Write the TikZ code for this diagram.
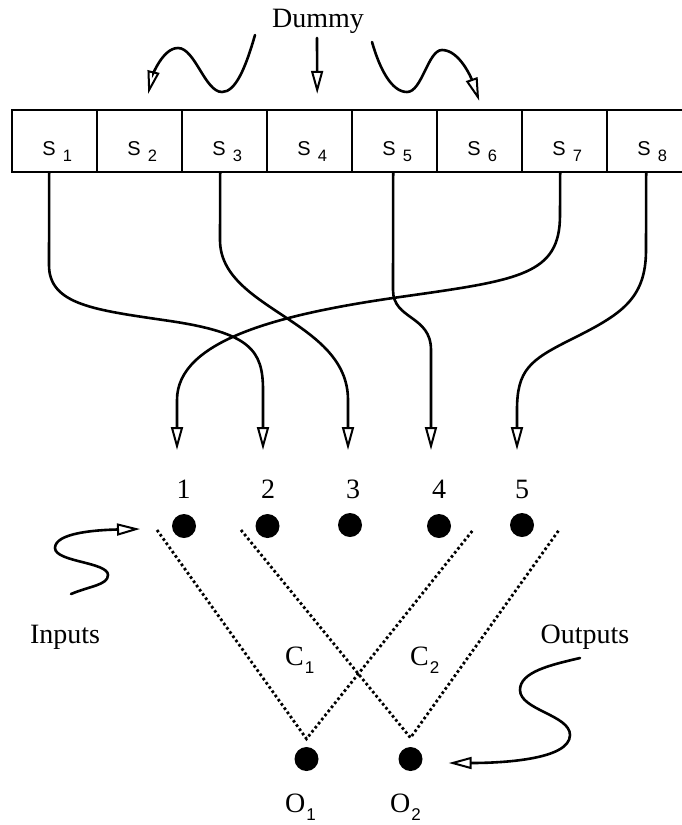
\documentclass[tikz,border=0pt]{standalone}
\usepackage{fontspec}
\setmainfont{Liberation Serif}
\newfontfamily\subsans{Liberation Sans}
\usetikzlibrary{arrows.meta}

% register entry: letter with a lowered sans-serif index
\newcommand\regentry[1]{\hspace*{6pt}{\subsans\fontsize{20}{20}\selectfont S}\kern7pt\raisebox{-6pt}{\subsans\fontsize{16.5}{16.5}\selectfont #1}}
% serif letter with a lowered sans-serif index
\newcommand\idxlabel[2]{#1\kern1pt\raisebox{-8pt}{\subsans\fontsize{17}{17}\selectfont #2}}

\begin{document}
\begin{tikzpicture}[x=1pt,y=-1pt,
  txt/.style={font=\fontsize{28}{30}\selectfont, inner sep=0pt},
  cell/.style={draw, line width=2.4pt, minimum width=85pt, minimum height=62pt,
               inner sep=0pt, text height=31pt, text depth=3pt},
  dot/.style={circle, fill=black, minimum size=24pt, inner sep=0pt},
  wire/.style={line width=2.6pt, line cap=round,
               -{Triangle[open, length=23pt, width=12pt, line width=2pt]}},
  cone/.style={line width=2.8pt, dash pattern=on 2.6pt off 2.6pt}]

\useasboundingbox (0,0) rectangle (682,825);
\clip (0,0) rectangle (682,825);
\fill[white] (0,0) rectangle (682,825);

% shift register
\foreach \k in {1,...,8}
  \node[cell] (s\k) at ({11.7+85*(\k-0.5)},141) {\regentry{\k}};

% dummy stages
\node[txt, anchor=base] (dummy) at (318,27) {Dummy};
\coordinate (d1) at (255,35);
\coordinate (d2) at (317,38);
\coordinate (d3) at (372,42);
\draw[wire] (d1) .. controls (245,70) and (235,92) .. (222,92)
                 .. controls (205,92) and (195,48) .. (178,48)
                 .. controls (162,48) and (152,78) .. ([xshift=9pt,yshift=15pt]s2.north);
\draw[wire] (d2) -- ([xshift=8pt,yshift=15pt]s4.north);
\draw[wire] (d3) .. controls (380,70) and (392,92) .. (407,92)
                 .. controls (422,92) and (428,50) .. (442,50)
                 .. controls (460,50) and (472,80) .. ([yshift=8pt]s6.north);

% network inputs
\coordinate (in1) at (177,450);
\coordinate (in2) at (263,450);
\coordinate (in3) at (348,450);
\coordinate (in4) at (431,450);
\coordinate (in5) at (517,450);

\draw[wire] ([xshift=-5pt]s1.south) -- (49,265)
  .. controls (49,305) and (95,310) .. (170,321)
  .. controls (250,333) and (263,350) .. (263,390) -- (in2);
\draw[wire] ([xshift=-4pt]s3.south) -- (220,240)
  .. controls (220,310) and (348,320) .. (348,400) -- (in3);
\draw[wire] ([xshift=-1pt]s5.south) -- (393,290)
  .. controls (393,320) and (431,315) .. (431,350) -- (in4);
\draw[wire] ([xshift=-4pt]s7.south) -- (560,215)
  .. controls (560,275) and (520,280) .. (400,297)
  .. controls (280,314) and (177,340) .. (177,400) -- (in1);
\draw[wire] ([xshift=-3pt]s8.south) -- (646,250)
  .. controls (646,300) and (620,315) .. (570,340)
  .. controls (530,360) and (517,370) .. (517,410) -- (in5);

% input nodes
\node[txt, anchor=base] (l1) at (183.5,498) {1};
\node[txt, anchor=base] (l2) at (268,498) {2};
\node[txt, anchor=base] (l3) at (353,498) {3};
\node[txt, anchor=base] (l4) at (439,498) {4};
\node[txt, anchor=base] (l5) at (522,498) {5};
\node[dot] (n1) at (184,526) {};
\node[dot] (n2) at (267.5,526) {};
\node[dot] (n3) at (350,525) {};
\node[dot] (n4) at (439,526) {};
\node[dot] (n5) at (522,525) {};

% output nodes
\node[dot] (o1) at (306.5,759) {};
\node[dot] (o2) at (410.5,759) {};
\node[txt, anchor=base west] (ol1) at (285,812) {\idxlabel{O}{1}};
\node[txt, anchor=base west] (ol2) at (390,812) {\idxlabel{O}{2}};

% cones of the two outputs
\coordinate (c1a) at (157,530);
\coordinate (c1b) at (473,530);
\coordinate (c2a) at (241,530);
\coordinate (c2b) at (559,530);
\draw[cone] (c1a) -- ([yshift=8pt]o1.north) -- (c1b);
\draw[cone] (c2a) -- ([yshift=9pt]o2.north) -- (c2b);
\node[txt, anchor=base west] (cl1) at (285,665) {\idxlabel{C}{1}};
\node[txt, anchor=base west] (cl2) at (410,665) {\idxlabel{C}{2}};

% annotations
\node[txt, anchor=base] (inputs) at (65,643) {Inputs};
\node[txt, anchor=base] (outputs) at (585,643) {Outputs};
\coordinate (ia) at (71,594);
\coordinate (ib) at (140,529);
\draw[wire] (ia) .. controls (90,586) and (108,585) .. (108,575)
                 .. controls (108,562) and (55,562) .. (55,548)
                 .. controls (55,533) and (95,530) .. (ib);
\coordinate (oa) at (580,658);
\draw[wire] (oa) .. controls (550,665) and (520,672) .. (520,690)
                 .. controls (520,710) and (570,715) .. (570,735)
                 .. controls (570,760) and (500,763) .. ([xshift=26pt,yshift=-4pt]o2.east);
\end{tikzpicture}
\end{document}
